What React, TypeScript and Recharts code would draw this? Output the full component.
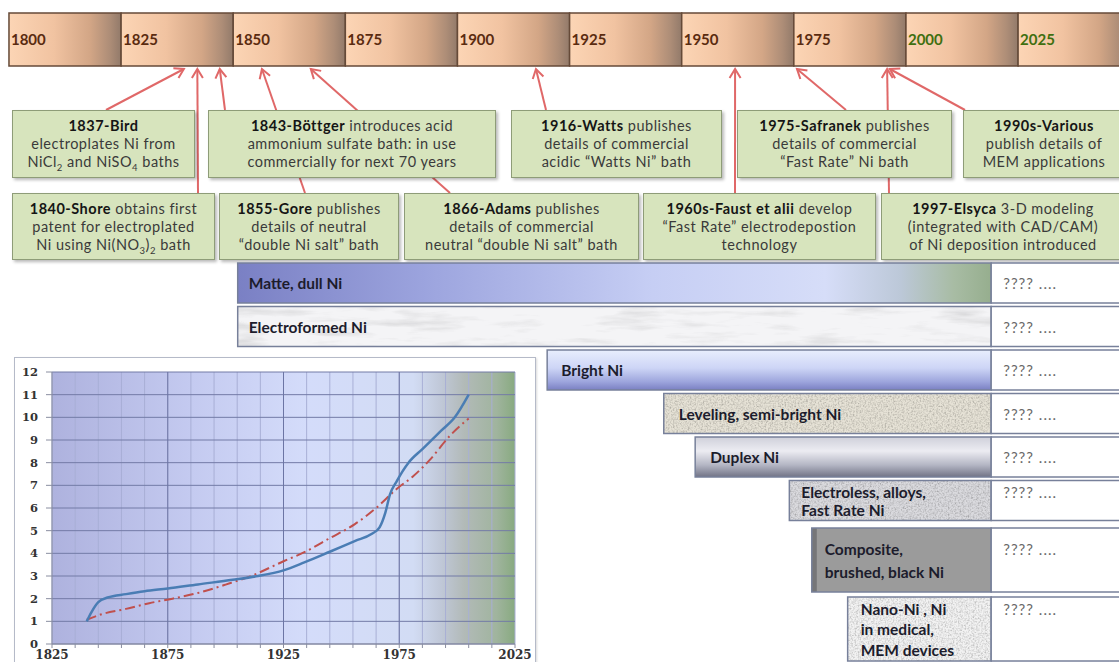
import React from 'react';
import {
  ComposedChart, BarChart, Bar, LineChart, Line, XAxis, YAxis,
  CartesianGrid, ReferenceArea, ReferenceLine,
} from 'recharts';

const W = 1119;
const H = 662;
const YEAR_DOMAIN: [number, number] = [1798, 2047.5];

// timeline
const timelineStarts = [1800, 1825, 1850, 1875, 1900, 1925, 1950, 1975, 2000, 2025];

// events (annotation boxes)
const eventTitles = [
  '1837-Bird', '1843-Böttger', '1916-Watts', '1975-Safranek', '1990s-Various',
  '1840-Shore', '1855-Gore', '1866-Adams', '1960s-Faust et alii', '1997-Elsyca',
];
const eventLines = [
  ['', 'electroplates Ni from', 'NiCl_2 and NiSO_4 baths'],
  [' introduces acid', 'ammonium sulfate bath: in use', 'commercially for next 70 years'],
  [' publishes', 'details of commercial', 'acidic “Watts Ni” bath'],
  [' publishes', 'details of commercial', '“Fast Rate” Ni bath'],
  ['', 'publish details of', 'MEM applications'],
  [' obtains first', 'patent for electroplated', 'Ni using Ni(NO_3)_2 bath'],
  [' publishes', 'details of neutral', '“double Ni salt” bath'],
  [' publishes', 'details of commercial', 'neutral “double Ni salt” bath'],
  [' develop', '“Fast Rate” electrodepostion', 'technology'],
  [' 3-D modeling', '(integrated with CAD/CAM)', 'of Ni deposition introduced'],
];
const arrowYears = [1839, 1847, 1917.5, 1975.7, 1996.4, 1842, 1856.4, 1867.3, 1961.9, 1995.8];

// processes (bars)
const processLabels = [
  ['Matte, dull Ni'],
  ['Electroformed Ni'],
  ['Bright Ni'],
  ['Leveling, semi-bright Ni'],
  ['Duplex Ni'],
  ['Electroless, alloys,', 'Fast Rate Ni'],
  ['Composite,', 'brushed, black Ni'],
  ['Nano-Ni , Ni', 'in medical,', 'MEM devices'],
];
const processStart = [1851, 1851, 1920, 1946, 1953, 1974, 1979, 1987];
const processEnd = [2019, 2019, 2019, 2019, 2019, 2019, 2019, 2019];
const futureLabel = '???? ....';

// small chart
const growthYears = [1840, 1842, 1845, 1849, 1857, 1865, 1875, 1888, 1903, 1914, 1925, 1934, 1945, 1956, 1963, 1966.5, 1969, 1971, 1974, 1979, 1985, 1993, 1999, 2005];
const growthValues = [1.0, 1.4, 1.85, 2.05, 2.2, 2.33, 2.45, 2.63, 2.83, 3.0, 3.25, 3.6, 4.07, 4.55, 4.85, 5.15, 5.8, 6.6, 7.2, 8.0, 8.6, 9.4, 10.0, 11.0];
const trendYears = [1840, 1846, 1857, 1867, 1877, 1888, 1900, 1911, 1925, 1934, 1945, 1956, 1965, 1974, 1981, 1988, 1997, 2005];
const trendValues = [1.07, 1.3, 1.55, 1.8, 2.0, 2.25, 2.62, 3.0, 3.65, 4.05, 4.67, 5.3, 6.0, 6.85, 7.4, 8.1, 9.2, 9.95];
const xTicks = [1825, 1835, 1845, 1855, 1865, 1875, 1885, 1895, 1905, 1915, 1925, 1935, 1945, 1955, 1965, 1975, 1985, 1995, 2005, 2015, 2025];
const yTicks = [0, 1, 2, 3, 4, 5, 6, 7, 8, 9, 10, 11, 12];
const majorYears = [1875, 1925, 1975];

// layout
const boxLayout = [
  { left: 12, top: 110, width: 183, height: 68, tail: [106, 110] },
  { left: 208, top: 110, width: 288, height: 68, tail: [225, 110] },
  { left: 511, top: 110, width: 211, height: 68, tail: [546, 110] },
  { left: 737, top: 110, width: 215, height: 68, tail: [846, 110] },
  { left: 963, top: 110, width: 162, height: 68, tail: [965, 110] },
  { left: 12, top: 193, width: 203, height: 67, tail: [198, 193] },
  { left: 219, top: 193, width: 180, height: 67, tail: [305, 193] },
  { left: 404, top: 193, width: 235, height: 67, tail: [450, 193] },
  { left: 643, top: 193, width: 233, height: 67, tail: [735, 193] },
  { left: 881, top: 193, width: 244, height: 67, tail: [889, 193] },
];

const rowStyles: any[] = [
  { fill: 'url(#matteGrad)', dx: 11, lh: 18 },
  { fill: '#f4f4f6', texture: 'url(#marble)', dx: 11, lh: 18 },
  { fill: 'url(#brightGrad)', dx: 14, lh: 18 },
  { fill: '#e6e2d6', texture: 'url(#grain)', dx: 15, lh: 18 },
  { fill: 'url(#duplexGrad)', dx: 15, lh: 18 },
  { fill: '#dadade', texture: 'url(#grain)', dx: 12, lh: 18 },
  { fill: '#9b9b9b', stripe: '#767678', dx: 13, lh: 23 },
  { fill: '#f2f2f2', texture: 'url(#grain)', dx: 13, lh: 20.5 },
];

const yearToX = (yr: number) => ((yr - YEAR_DOMAIN[0]) / (YEAR_DOMAIN[1] - YEAR_DOMAIN[0])) * W;

const processData = processLabels.map((lines, i) => ({
  name: lines.join(' '),
  range: [processStart[i], processEnd[i]],
  idx: i,
}));
const growthData = growthYears.map((year, i) => ({ year, value: growthValues[i] }));
const trendData = trendYears.map((year, i) => ({ year, value: trendValues[i] }));
const timelineData = timelineStarts.map((year) => ({ year }));

const rich = (s: string) =>
  s.split(/_(\d)/).map((part, i) =>
    i % 2 === 1 ? (
      <sub key={i} style={{ fontSize: 9.5, lineHeight: 0 }}>{part}</sub>
    ) : (
      <React.Fragment key={i}>{part}</React.Fragment>
    ),
  );

const GanttShape = (props: any) => {
  const { x, y, width, height } = props;
  const idx = props.payload ? props.payload.idx : props.idx;
  const st = rowStyles[idx];
  const lines = processLabels[idx];
  const lh = st.lh;
  const y0 = y + height / 2 - (lh * (lines.length - 1)) / 2;
  const end = x + width;
  return (
    <g>
      <rect x={x} y={y} width={width} height={height} fill={st.fill} filter={st.texture} />
      {st.stripe && <rect x={x} y={y} width={5} height={height} fill={st.stripe} />}
      <rect x={x} y={y} width={width} height={height} fill="none" stroke="#77809a" strokeWidth={1.5} />
      <rect x={end} y={y} width={W - end + 4} height={height} fill="#ffffff" stroke="#77809a" strokeWidth={1.5} />
      {lines.map((ln: string, i: number) => (
        <text key={i} x={x + st.dx} y={y0 + i * lh} dominantBaseline="central"
          fontFamily="Lato" fontWeight={700} fontSize={15.5} fill="#1c1c2c">{ln}</text>
      ))}
      <text x={end + 12} y={y0} dominantBaseline="central" fontFamily="Lato" fontSize={15}
        letterSpacing={1} fill="#6a6a6a">{futureLabel}</text>
    </g>
  );
};

const Defs = () => (
  <svg width={0} height={0} style={{ position: 'absolute' }}>
    <defs>
      <linearGradient id="tlGrad" x1="0" y1="0" x2="1" y2="0">
        <stop offset="0" stopColor="#fcd5b5" />
        <stop offset="0.4" stopColor="#f1c3a1" />
        <stop offset="0.72" stopColor="#d3a686" />
        <stop offset="0.9" stopColor="#ad8d77" />
        <stop offset="1" stopColor="#927a6a" />
      </linearGradient>
      <linearGradient id="plotBg" x1="0" y1="0" x2="1" y2="0">
        <stop offset="0" stopColor="#aeb2de" />
        <stop offset="0.3" stopColor="#c4caf0" />
        <stop offset="0.55" stopColor="#d4dcfa" />
        <stop offset="0.78" stopColor="#d2dcf4" />
        <stop offset="0.84" stopColor="#c0c8d8" />
        <stop offset="0.89" stopColor="#b2bab8" />
        <stop offset="0.96" stopColor="#a0b49e" />
        <stop offset="1" stopColor="#88aa80" />
      </linearGradient>
      <linearGradient id="matteGrad" x1="0" y1="0" x2="1" y2="0">
        <stop offset="0" stopColor="#7a80c4" />
        <stop offset="0.25" stopColor="#9ca4de" />
        <stop offset="0.55" stopColor="#c6cef4" />
        <stop offset="0.78" stopColor="#d6ddf8" />
        <stop offset="0.88" stopColor="#bcc8d8" />
        <stop offset="0.95" stopColor="#a8bca4" />
        <stop offset="1" stopColor="#96ae8e" />
      </linearGradient>
      <linearGradient id="brightGrad" x1="0" y1="0" x2="0" y2="1">
        <stop offset="0" stopColor="#e8eefd" />
        <stop offset="0.45" stopColor="#cdd5f6" />
        <stop offset="0.8" stopColor="#9ca4dc" />
        <stop offset="1" stopColor="#7a80c2" />
      </linearGradient>
      <linearGradient id="duplexGrad" x1="0" y1="0" x2="0" y2="1">
        <stop offset="0" stopColor="#cfd0da" />
        <stop offset="0.35" stopColor="#ececf2" />
        <stop offset="0.7" stopColor="#b4b6c4" />
        <stop offset="1" stopColor="#727486" />
      </linearGradient>
      <filter id="grain" x="0" y="0" width="1" height="1">
        <feTurbulence type="fractalNoise" baseFrequency="0.6" numOctaves={3} seed={7} result="n" />
        <feColorMatrix in="n" type="saturate" values="0" result="g" />
        <feComponentTransfer in="g" result="c">
          <feFuncR type="linear" slope="1.2" intercept="0.3" />
          <feFuncG type="linear" slope="1.2" intercept="0.3" />
          <feFuncB type="linear" slope="1.2" intercept="0.3" />
          <feFuncA type="linear" slope="0" intercept="1" />
        </feComponentTransfer>
        <feBlend in="SourceGraphic" in2="c" mode="multiply" result="b" />
        <feComposite in="b" in2="SourceGraphic" operator="in" />
      </filter>
      <filter id="marble" x="0" y="0" width="1" height="1">
        <feTurbulence type="fractalNoise" baseFrequency="0.015 0.09" numOctaves={4} seed={3} result="n" />
        <feColorMatrix in="n" type="saturate" values="0" result="g" />
        <feComponentTransfer in="g" result="c">
          <feFuncR type="linear" slope="0.8" intercept="0.6" />
          <feFuncG type="linear" slope="0.8" intercept="0.6" />
          <feFuncB type="linear" slope="0.8" intercept="0.6" />
          <feFuncA type="linear" slope="0" intercept="1" />
        </feComponentTransfer>
        <feBlend in="SourceGraphic" in2="c" mode="multiply" result="b" />
        <feComposite in="b" in2="SourceGraphic" operator="in" />
      </filter>
    </defs>
  </svg>
);

const yearAxis = (
  <XAxis type="number" dataKey="year" domain={YEAR_DOMAIN} hide allowDataOverflow />
);

export default function App() {
  return (
    <div style={{ position: 'absolute', left: 0, top: 0, width: W, height: H, overflow: 'hidden', background: '#fff', fontFamily: 'Lato' }}>
      <Defs />

      {/* timeline */}
      <div style={{ position: 'absolute', left: 0, top: 0 }}>
        <ComposedChart width={W} height={80} margin={{ top: 0, right: 0, bottom: 0, left: 0 }} data={timelineData}>
          {yearAxis}
          <YAxis type="number" domain={[0, 80]} reversed hide allowDataOverflow />
          {timelineStarts.map((s) => (
            <ReferenceArea key={s} x1={s} x2={s + 25} y1={13} y2={66} ifOverflow="hidden"
              fill="url(#tlGrad)" fillOpacity={1} stroke="#654a38" strokeWidth={1.5}
              label={{ value: String(s), position: 'insideLeft', offset: 2, fontSize: 15, fontWeight: 700, fontFamily: 'Lato', fill: s >= 2000 ? '#3f6f10' : '#5a2b10' }} />
          ))}
        </ComposedChart>
      </div>

      {/* arrows */}
      <svg width={W} height={H} style={{ position: 'absolute', left: 0, top: 0 }}>
        <defs>
          <marker id="ah" markerWidth="14" markerHeight="14" refX="11" refY="7" orient="auto" markerUnits="userSpaceOnUse">
            <path d="M2,1.5 L11,7 L2,12.5" fill="none" stroke="#e06868" strokeWidth={2} />
          </marker>
        </defs>
        {boxLayout.map((b, i) => (
          <line key={i} x1={b.tail[0]} y1={b.tail[1]} x2={yearToX(arrowYears[i])} y2={69}
            stroke="#e06868" strokeWidth={2} markerEnd="url(#ah)" />
        ))}
      </svg>

      {/* annotation boxes */}
      {boxLayout.map((b, i) => (
        <div key={i} style={{
          position: 'absolute', left: b.left, top: b.top, width: b.width, height: b.height,
          boxSizing: 'border-box', background: '#d7e4bd', border: '1.5px solid #8e9c78',
          boxShadow: '2px 2px 3px rgba(0,0,0,0.28)', display: 'flex', flexDirection: 'column',
          justifyContent: 'center', alignItems: 'center', textAlign: 'center',
          fontSize: 14.5, lineHeight: '18px', letterSpacing: 0.5, color: '#3a3a3a', whiteSpace: 'nowrap',
        }}>
          <div><b style={{ color: '#151515' }}>{eventTitles[i]}</b>{rich(eventLines[i][0])}</div>
          <div>{rich(eventLines[i][1])}</div>
          <div>{rich(eventLines[i][2])}</div>
        </div>
      ))}

      {/* process bars */}
      <div style={{ position: 'absolute', left: 0, top: 261.25 }}>
        <BarChart layout="vertical" width={W} height={261} margin={{ top: 0, right: 0, bottom: 0, left: 0 }}
          data={processData.slice(0, 6)} barSize={40}>
          {yearAxis}
          <YAxis type="category" dataKey="name" hide />
          <Bar dataKey="range" shape={GanttShape} isAnimationActive={false} />
        </BarChart>
      </div>
      <div style={{ position: 'absolute', left: 0, top: 524.5 }}>
        <BarChart layout="vertical" width={W} height={138} margin={{ top: 0, right: 0, bottom: 0, left: 0 }}
          data={processData.slice(6)} barSize={64}>
          {yearAxis}
          <YAxis type="category" dataKey="name" hide />
          <Bar dataKey="range" shape={GanttShape} isAnimationActive={false} />
        </BarChart>
      </div>

      {/* growth chart */}
      <div style={{
        position: 'absolute', left: 14, top: 357, width: 522, height: 320, boxSizing: 'border-box',
        border: '1px solid #b5bac8', background: '#fff', boxShadow: '1px 1px 2px rgba(0,0,0,0.15)',
      }}>
        <LineChart width={521} height={310} margin={{ top: 14, right: 21, bottom: 4, left: 7 }}>
          <CartesianGrid horizontal={false} stroke="#a8afd6" fill="url(#plotBg)" fillOpacity={1} />
          <CartesianGrid vertical={false} stroke="#737ba6" />
          {majorYears.map((yr) => (
            <ReferenceLine key={yr} x={yr} stroke="#6c75a4" strokeWidth={1} />
          ))}
          <XAxis type="number" dataKey="year" domain={[1825, 2025]} ticks={xTicks} interval={0}
            tickFormatter={(v: number) => ((v - 1825) % 50 === 0 ? String(v) : '')}
            height={20} tickSize={4} tickMargin={2} stroke="#8a8ea0"
            tick={{ fontFamily: 'DejaVu Serif', fontWeight: 700, fontSize: 12, fill: '#333' }} />
          <YAxis type="number" domain={[0, 12]} ticks={yTicks} interval={0} width={30}
            tickSize={6} tickMargin={8} stroke="#8a8ea0"
            tick={{ fontFamily: 'DejaVu Serif', fontWeight: 700, fontSize: 11.5, fill: '#333' }} />
          <Line data={trendData} dataKey="value" type="monotone" stroke="#c0504d" strokeWidth={2}
            strokeDasharray="10 4 2 4" dot={false} isAnimationActive={false} />
          <Line data={growthData} dataKey="value" type="monotone" stroke="#4a7db4" strokeWidth={2.5}
            dot={false} isAnimationActive={false} />
        </LineChart>
      </div>
    </div>
  );
}
